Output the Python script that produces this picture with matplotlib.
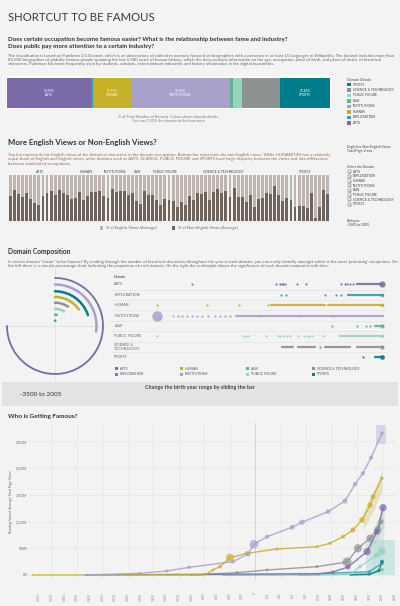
import numpy as np
import matplotlib
matplotlib.use("Agg")
import matplotlib.pyplot as plt
from matplotlib.lines import Line2D
from matplotlib.patches import Rectangle
from matplotlib.transforms import blended_transform_factory

plt.rcParams['font.family'] = ['Lato', 'DejaVu Sans']

# ---------------- data ----------------
domains = ["ARTS", "EXPLORATION", "HUMAN", "INSTITUTIONS", "LAW",
           "PUBLIC FIGURE", "SCIENCE & TECHNOLOGY", "SPORTS"]
domain_colors = ["#7a6aa8", "#2e9fb6", "#c8af28", "#a7a1cc", "#62b48e",
                 "#98d3be", "#8e9191", "#007d8a"]
domain_share = [25.89, 0.8, 11.71, 30.46, 1.0, 3.0, 11.66, 15.48]
labeled_share = ["ARTS", "HUMAN", "INSTITUTIONS", "SPORTS"]

noneng_pct = [53.6, 66.7, 58, 52, 61, 48.5, 39, 35.5, 53.6, 61, 65, 56, 68, 61.6,
              56.5, 47, 50.7, 63, 46, 53.6, 63, 63, 65, 53.6, 49, 70, 63, 64.5,
              64.5, 57, 61.6, 42.8, 36, 65, 56, 56, 46, 34, 48.5, 45, 42.8, 30,
              41, 34, 53.6, 45, 61.6, 58, 62, 46,
              62, 70, 60, 66, 53, 71, 53, 53, 42, 56.5, 31, 48, 51, 60, 58, 76,
              56.5, 43.5, 49, 45.6, 31, 32.6, 32.6, 29, 60, 6, 31, 67, 58.7]
group_labels = ["ARTS", "HUMAN", "INSTITUTIONS", "LAW", "PUBLIC FIGURE",
                "SCIENCE & TECHNOLOGY", "SPORTS"]
group_label_bar = [7.2, 18.6, 25.8, 31.2, 37.9, 52.3, 72.4]

ring_domains = ["ARTS", "INSTITUTIONS", "SPORTS", "HUMAN",
                "SCIENCE & TECHNOLOGY", "PUBLIC FIGURE", "LAW", "EXPLORATION"]
ring_pct = [75.0, 27.2, 19.9, 15.4, 9.4, 8.9, 2.5, 1.0]

strip_dots = {
    "ARTS": [-2648, -597, -499, -459, -418, -378, -94, 125, 977, 1082, 1139, 1204, 1269],
    "EXPLORATION": [-483, -361, 596, 863, 977],
    "HUMAN": [-3500, -2284, -1497, -783],
    "INSTITUTIONS": [-3095, -2973, -2892, -2770, -2648, -2527, -2405, -2243,
                     -2081, -1959, -1838, -1716, -986, -13, 798],
    "LAW": [774, 1382, 1585, 1690],
    "PUBLIC FIGURE": [-3500, -1391, -1327, -1270, -848, -556, -499, -418, -337,
                      -256, -69, 85, 150, 215, 271, 555],
    "SCIENCE & TECHNOLOGY": [474],
    "SPORTS": [1528],
}
strip_runs = {
    "ARTS": [(1366, 1974)],
    "EXPLORATION": [(1163, 2000)],
    "HUMAN": [(-726, 596), (677, 2000)],
    "INSTITUTIONS": [(-1570, 2000)],
    "LAW": [(1812, 2000)],
    "PUBLIC FIGURE": [(961, 2000)],
    "SCIENCE & TECHNOLOGY": [(-459, -175), (-69, 352), (596, 1204), (1366, 2000)],
    "SPORTS": [(1812, 2000)],
}
strip_big = {"ARTS": (1974, 4.5), "INSTITUTIONS": (-3500, 7.5), "SPORTS": (1990, 3.5),
             "SCIENCE & TECHNOLOGY": (1990, 3.0), "LAW": (1990, 3.0),
             "EXPLORATION": (1990, 2.5), "HUMAN": (1990, 2.5), "PUBLIC FIGURE": (1990, 2.5)}

line_years = {
    "INSTITUTIONS": [-2680, -1811, -1386, -1039, -346, -110, -16, 189, 583, 740, 1150, 1417, 1575, 1700, 1827, 2000],
    "HUMAN": [-3500, -787, -661, -551, -394, -126, 346, 976, 1181, 1386, 1543, 1685, 1811, 1858, 2000],
    "ARTS": [-2650, 1000, 1228, 1465, 1764, 1921, 2016],
    "SCIENCE & TECHNOLOGY": [-1000, -283, 189, 976, 1449, 1622, 1811, 1937, 1985],
    "PUBLIC FIGURE": [-1400, 1500, 1654, 1921, 2000],
    "SPORTS": [1500, 1800, 1950, 2000],
    "EXPLORATION": [-500, 1000, 1228, 1800, 2000],
    "LAW": [700, 1800, 2000],
}
line_values = {
    "INSTITUTIONS": [0, 32, 75, 144, 250, 393, 575, 717, 893, 987, 1186, 1386, 1699, 1905, 2197, 2654],
    "HUMAN": [0, 3, 94, 156, 324, 406, 487, 530, 593, 717, 843, 1030, 1311, 1466, 1811],
    "ARTS": [0, 25, 56, 150, 437, 811, 1260],
    "SCIENCE & TECHNOLOGY": [0, 43, 94, 156, 243, 500, 687, 860, 1000],
    "PUBLIC FIGURE": [0, 10, 156, 375, 450],
    "SPORTS": [0, 10, 80, 250],
    "EXPLORATION": [0, 10, 37, 60, 220],
    "LAW": [0, 20, 100],
}
line_bubbles = {
    "INSTITUTIONS": [1, 6, 8, 10, 12, 20, 55, 14, 18, 22, 18, 20, 16, 14, 14, 10],
    "HUMAN": [1, 1, 6, 10, 50, 14, 8, 6, 8, 12, 20, 24, 20, 18, 8],
    "ARTS": [1, 1, 6, 20, 40, 30, 40],
    "SCIENCE & TECHNOLOGY": [1, 10, 6, 8, 60, 50, 40, 30, 20],
    "PUBLIC FIGURE": [1, 1, 10, 20, 45],
    "SPORTS": [1, 4, 8, 12],
    "EXPLORATION": [1, 2, 6, 8, 10],
    "LAW": [1, 3, 8],
}
x_ticks = list(range(-3400, 2201, 200))
y_ticks = [0, 500, 1000, 1500, 2000, 2500]
y_tick_labels = ["0M", "500M", "1,000M", "1,500M", "2,000M", "2,500M"]

# ---------------- figure helpers ----------------
W, H = 400, 606
BG = "#f3f3f3"
TXT = "#444444"
fig = plt.figure(figsize=(W / 100, H / 100), dpi=100)
fig.patch.set_facecolor(BG)
col = dict(zip(domains, domain_colors))


def add_ax(x0, y0, x1, y1, **kw):
    return fig.add_axes([x0 / W, 1 - y1 / H, (x1 - x0) / W, (y1 - y0) / H], **kw)


def txt(x, y, s, size=2.4, color=TXT, ha="left", va="center", **kw):
    return fig.text(x / W, 1 - y / H, s, fontsize=size, color=color, ha=ha, va=va, **kw)


def rect(x, y, w, h, color, z=1, **kw):
    fig.add_artist(Rectangle((x / W, 1 - (y + h) / H), w / W, h / H, transform=fig.transFigure,
                             facecolor=color, edgecolor=kw.pop("ec", "none"), zorder=z, **kw))


def hline(x0, x1, y, color="#dddddd", lw=0.5):
    fig.add_artist(Line2D([x0 / W, x1 / W], [1 - y / H, 1 - y / H], color=color, lw=lw, zorder=-1))


def vline(x, y0, y1, color="#dddddd", lw=0.5):
    fig.add_artist(Line2D([x / W, x / W], [1 - y0 / H, 1 - y1 / H], color=color, lw=lw, zorder=-1))


# ---------------- header ----------------
txt(8, 17.5, "SHORTCUT TO BE FAMOUS", size=8.2, color="#3a3a3a")
txt(8, 40, "Does certain occupation become famous easier? What is the relationship between fame and industry?",
    size=4.4, color="#333333", fontweight="bold")
txt(8, 46.5, "Does public pay more attention to a certain industry?", size=4.4, color="#333333", fontweight="bold")
para1 = ["The visualisation is based on Pantheon 2.0 Dataset, which is an observatory of collective memory focused on biographies with a presence in at least 15 languages in Wikipedia. The dataset includes more than",
         "85,000 biographies of globally famous people spanning the last 5,500 years of human history, which the data contains information on the age, occupation, place of birth, and place of death, of historical",
         "characters. Pantheon has been frequently used by students, scholars, entertainment industries and history aficionados in the digital humanities."]
for i, line in enumerate(para1):
    txt(8, 56 + 4.2 * i, line, size=3.03, color="#666666")

# ---------------- stacked share bar ----------------
rect(5.5, 76.5, 326, 33, "white", z=-1)
axb = add_ax(7.3, 78.3, 330, 107.7)
left = 0
for d, p in zip(domains, domain_share):
    axb.barh(0, p, left=left, height=1, color=col[d], edgecolor="none")
    if d in labeled_share:
        axb.text(left + p / 2, 0, f"{p:.2f}%\n{d}", ha="center", va="center",
                 fontsize=2.3, color="white", linespacing=1.3)
    left += p
axb.set_xlim(0, sum(domain_share))
axb.set_ylim(-0.5, 0.5)
axb.axis("off")
txt(168, 117.3, "% of Total Number of Records. Colour shows domain details.", size=2.7, color="#777777", ha="center")
txt(168, 121.3, "You can CLICK the domain to find out more", size=2.7, color="#777777", ha="center")

txt(347, 80, "Domain Details", size=2.5)
for i, d in enumerate(domains[::-1]):
    y = 84.5 + 5.5 * i
    rect(347, y - 1.7, 3.6, 3.4, col[d])
    txt(353, y, d, size=2.4)

# ---------------- English vs non-English ----------------
txt(8, 142.5, "More English Views or Non-English Views?", size=5.6, color="#333333", fontweight="bold")
para2 = ["Top bar represents the English views of the historical characters in the domain-occupation. Bottom bar represents the non-English views. While HUMANITIES has a relatively",
         "equal share of English non-English views, other domains such as ARTS, SCIENCE, PUBLIC FIGURE and SPORTS have large disparity between the views and also differences",
         "between subdivided occupations."]
for i, line in enumerate(para2):
    txt(8, 155 + 4.3 * i, line, size=3.05, color="#9a6a52")

axe = add_ax(8, 175, 330, 221)
idx = np.arange(len(noneng_pct))
ne = np.array(noneng_pct)
axe.bar(idx, ne, width=0.72, color="#6f645c", edgecolor="none")
axe.bar(idx, 100 - ne, bottom=ne, width=0.72, color="#bfb4ae", edgecolor="none")
axe.set_xlim(-0.6, len(idx) - 0.4)
axe.set_ylim(0, 100)
axe.axis("off")
tr = blended_transform_factory(axe.transData, axe.transAxes)
for lab, b in zip(group_labels, group_label_bar):
    axe.text(b, 1.07, lab, transform=tr, ha="center", va="center", fontsize=2.4, color=TXT)

rect(100, 226.1, 3.4, 3.4, "#bfb4ae")
txt(105.5, 227.8, "% of English Views (Average)", size=2.9, color="#666666")
rect(172, 226.1, 3.4, 3.4, "#6f645c")
txt(177.5, 227.8, "% of Non-English Views (Average)", size=2.9, color="#666666")

txt(347, 147, "English or Non-English Views", size=2.4)
txt(347, 151.3, "Total Page Views", size=2.4)
txt(347, 167, "Select the Domain", size=2.4)
for i, d in enumerate(domains):
    y = 171.7 + 4.66 * i
    rect(347.5, y - 1.6, 3.2, 3.2, "white", ec="#555555", lw=0.3)
    txt(348.2, y, "✓", size=2.2, color="#333333", family=["DejaVu Sans"])
    txt(353, y, d, size=2.4)
txt(347, 221, "Birthyear", size=2.4)
txt(347, 225.5, "-3500 to 2005", size=2.4)

# ---------------- Domain composition ----------------
txt(8, 251.7, "Domain Composition", size=4.8, color="#333333", fontweight="bold")
para3 = ["Is certain domain \"easier\" to be famous? By reading through the number of historical characters throughout the year in each domain, you can easily identify amongst which is the most 'promising' occupation. On",
         "the left there is a circular percentage chart indicating the proportion of each domain. On the right the scatterplot shows the significance of each domain compared with time."]
for i, line in enumerate(para3):
    txt(8, 261.7 + 4.1 * i, line, size=3.04, color="#666666")

# radial chart
hline(3, 107, 326, color="#d8d8d8", lw=0.4)
vline(55, 269, 382, color="#d8d8d8", lw=0.4)
axr = add_ax(5, 276, 105, 376, projection="polar")
axr.set_facecolor("none")
axr.set_theta_zero_location("N")
axr.set_theta_direction(-1)
radii = [48, 41.5, 34.7, 29, 23.3, 17.2, 11.3, 5.3]
widths = [1.3, 1.8, 1.8, 1.8, 1.8, 1.8, 1.8, 1.8]
for d, p, r, w in zip(ring_domains, ring_pct, radii, widths):
    th = np.linspace(0, 2 * np.pi * p / 100, 200)
    axr.plot(th, np.full_like(th, r), color=col[d], lw=w, solid_capstyle="round")
axr.set_ylim(0, 50)
axr.axis("off")

# strip plot
axs = add_ax(112, 279.1, 388, 362.5)
axs.set_facecolor("none")
px_per_year = 226.3 / 5505
axs.set_xlim(-3500 - 44.7 / px_per_year, 2005 + 5 / px_per_year)
axs.set_ylim(7.5, -0.5)
axs.axis("off")
trs = blended_transform_factory(axs.transAxes, axs.transData)
for i, d in enumerate(domains):
    c = col[d]
    lab = "SCIENCE &\nTECHNOLOGY" if d == "SCIENCE & TECHNOLOGY" else d
    axs.text(0.008, i, lab, transform=trs, ha="left", va="center", fontsize=2.7, color="#666666", linespacing=1.2)
    if i < 7:
        axs.plot([0, 1], [i + 0.5, i + 0.5], transform=trs, color="#e0e0e0", lw=0.4)
    for a, b in strip_runs[d]:
        axs.plot([a, b], [i, i], color=c, lw=1.6, alpha=0.9, solid_capstyle="round")
    axs.plot(strip_dots[d], [i] * len(strip_dots[d]), "o", color=c, ms=1.6, mew=0, alpha=0.9)
    bx, bs = strip_big[d]
    axs.plot([bx], [i], "o", color=c, ms=bs, mew=0, alpha=0.85)
txt(114, 277.3, "Domain", size=2.6, color="#333333")

leg_x = [115, 180, 246, 312]
for i, d in enumerate(["ARTS", "HUMAN", "LAW", "SCIENCE & TECHNOLOGY",
                       "EXPLORATION", "INSTITUTIONS", "PUBLIC FIGURE", "SPORTS"]):
    x = leg_x[i % 4]
    y = 368.7 if i < 4 else 374.3
    rect(x, y - 1.6, 3.2, 3.2, col[d])
    txt(x + 5, y, d, size=2.5, color="#555555")

# ---------------- slider band ----------------
rect(2, 381.7, 396, 24.3, "#e3e3e3", z=-1)
txt(200, 388, "Change the birth year range by sliding the bar", size=3.9, color="#444444",
    ha="center", fontweight="bold")
txt(20, 395, "-3500 to 2005", size=4.6, color="#333333")

# ---------------- who is getting famous ----------------
txt(8, 416.7, "Who is Getting Famous?", size=4.6, color="#333333", fontweight="bold")
axl = add_ax(30, 423, 398, 580)
axl.set_facecolor("none")
axl.set_xlim(-3543, 2252)
axl.set_ylim(-94, 2846)
for s in axl.spines.values():
    s.set_visible(False)
axl.set_xticks(x_ticks)
axl.set_xticklabels([str(v) for v in x_ticks], rotation=90, fontsize=2.2, color="#888888")
axl.set_yticks(y_ticks)
axl.set_yticklabels(y_tick_labels, fontsize=2.3, color="#666666")
axl.tick_params(axis="x", length=0, pad=9)
axl.tick_params(axis="y", length=1, width=0.3, color="#999999", pad=0.8)
for v in y_ticks:
    axl.axhline(v, color="#e6e6e6", lw=0.4, zorder=0)
for v in range(-3200, 2201, 400):
    axl.axvline(v, color="#e6e6e6", lw=0.4, zorder=0)
axl.axvline(0, color="#d0d0d0", lw=0.6, zorder=0)
axl.set_ylabel("Running Sum of Average Total Page Views", fontsize=2.4, color="#666666", labelpad=2)

# shaded uncertainty areas near the end
axl.fill_between([1750, 2200], [0, 0], [650, 650], color="#2aa79b", alpha=0.18, lw=0)
axl.fill_between([1900, 2060], [2450, 2450], [2800, 2800], color="#a7a1cc", alpha=0.35, lw=0)
axl.fill_between([1700, 1850, 2000], [850, 1150, 1600], [1150, 1550, 1950], color="#c8af28", alpha=0.25, lw=0)
axl.fill_between([1800, 1950, 2030], [450, 700, 900], [700, 1100, 1350], color="#8e9191", alpha=0.2, lw=0)
axl.fill_between([1850, 1950, 2030], [100, 300, 400], [400, 900, 1100], color="#98d3be", alpha=0.25, lw=0)

order = ["LAW", "EXPLORATION", "SPORTS", "PUBLIC FIGURE", "SCIENCE & TECHNOLOGY", "ARTS", "HUMAN", "INSTITUTIONS"]
for d in order:
    xs, ys, bs = line_years[d], line_values[d], line_bubbles[d]
    axl.plot(xs, ys, color=col[d], lw=1.0, alpha=0.85, zorder=3)
    axl.scatter(xs, ys, s=np.array(bs) * 0.7, color=col[d], alpha=0.7, lw=0, zorder=4)

fig.savefig("out.png", dpi=100, facecolor=fig.get_facecolor())
